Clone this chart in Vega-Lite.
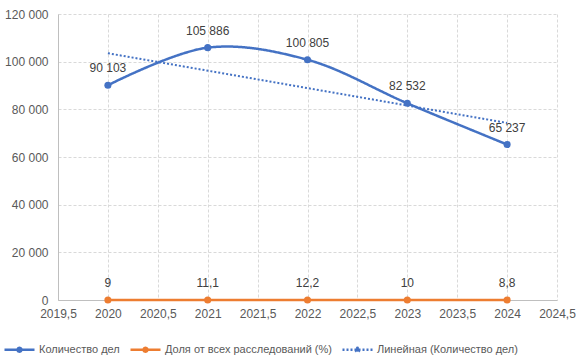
{
  "$schema": "https://vega.github.io/schema/vega-lite/v6.json",
  "width": 499,
  "height": 286,
  "autosize": {"type": "none"},
  "padding": {"left": 58, "top": 14, "right": 31, "bottom": 63},
  "background": "white",
  "config": {
    "locale": {"number": {"decimal": ",", "thousands": " ", "grouping": [3], "currency": ["", ""]}},
    "font": "Liberation Sans",
    "view": {"stroke": null},
    "axis": {
      "labelColor": "#595959", "labelFontSize": 12, "labelFont": "Liberation Sans",
      "gridColor": "#d9d9d9", "gridDash": [3, 2], "gridWidth": 1,
      "domainColor": "#bfbfbf", "ticks": false, "title": null
    }
  },
  "data": {
    "values": [
      {"year": 2020, "series": "Количество дел", "value": 90103},
      {"year": 2021, "series": "Количество дел", "value": 105886},
      {"year": 2022, "series": "Количество дел", "value": 100805},
      {"year": 2023, "series": "Количество дел", "value": 82532},
      {"year": 2024, "series": "Количество дел", "value": 65237},
      {"year": 2020, "series": "Доля от всех расследований (%)", "value": 9},
      {"year": 2021, "series": "Доля от всех расследований (%)", "value": 11.1},
      {"year": 2022, "series": "Доля от всех расследований (%)", "value": 12.2},
      {"year": 2023, "series": "Доля от всех расследований (%)", "value": 10},
      {"year": 2024, "series": "Доля от всех расследований (%)", "value": 8.8}
    ]
  },
  "encoding": {
    "x": {
      "field": "year", "type": "quantitative",
      "scale": {"domain": [2019.5, 2024.5], "nice": false, "zero": false},
      "axis": {"values": [2019.5, 2020, 2020.5, 2021, 2021.5, 2022, 2022.5, 2023, 2023.5, 2024, 2024.5], "format": ".1~f", "labelPadding": 8, "labelFlush": false, "domain": true}
    },
    "y": {
      "field": "value", "type": "quantitative",
      "scale": {"domain": [0, 120000], "nice": false},
      "axis": {"values": [0, 20000, 40000, 60000, 80000, 100000, 120000], "format": ",d", "labelPadding": 10, "domain": true}
    }
  },
  "layer": [
    {
      "mark": {"type": "line", "interpolate": "catmull-rom", "strokeWidth": 2.5},
      "encoding": {
        "color": {
          "field": "series", "type": "nominal",
          "scale": {
            "domain": ["Количество дел", "Доля от всех расследований (%)", "Линейная (Количество дел)"],
            "range": ["#4472C4", "#ED7D31", "#4472C4"]
          },
          "legend": {
            "title": null,
            "orient": "none",
            "legendX": -55,
            "legendY": 319,
            "direction": "horizontal",
            "labelColor": "#595959",
            "labelFontSize": 11,
            "labelFont": "Liberation Sans",
            "labelLimit": 400,
            "labelOffset": 3,
            "columnPadding": 5,
            "symbolSize": 900,
            "symbolStrokeWidth": 2.5,
            "symbolType": "M-1,0H1M-0.13,0A0.13,0.13,0,1,0,0.13,0A0.13,0.13,0,1,0,-0.13,0Z"
          }
        },
        "strokeDash": {
          "field": "series", "type": "nominal",
          "scale": {
            "domain": ["Количество дел", "Доля от всех расследований (%)", "Линейная (Количество дел)"],
            "range": [[1, 0], [1, 0], [2, 2]]
          },
          "legend": {
            "title": null,
            "orient": "none",
            "legendX": -55,
            "legendY": 319,
            "direction": "horizontal",
            "labelColor": "#595959",
            "labelFontSize": 11,
            "labelFont": "Liberation Sans",
            "labelLimit": 400,
            "labelOffset": 3,
            "columnPadding": 5,
            "symbolSize": 900,
            "symbolStrokeWidth": 2.5,
            "symbolType": "M-1,0H1M-0.13,0A0.13,0.13,0,1,0,0.13,0A0.13,0.13,0,1,0,-0.13,0Z"
          }
        }
      }
    },
    {
      "transform": [
        {"filter": "datum.series === 'Количество дел'"},
        {"regression": "value", "on": "year", "method": "linear", "extent": [2020, 2024]}
      ],
      "mark": {"type": "line", "strokeWidth": 2},
      "encoding": {
        "color": {"datum": "Линейная (Количество дел)"},
        "strokeDash": {"datum": "Линейная (Количество дел)"}
      }
    },
    {
      "mark": {"type": "point", "filled": true, "size": 50, "opacity": 1},
      "encoding": {
        "color": {"field": "series", "type": "nominal", "legend": null}
      }
    },
    {
      "mark": {"type": "text", "dy": -17, "fontSize": 12, "color": "#404040", "font": "Liberation Sans"},
      "encoding": {
        "text": {"field": "value", "type": "quantitative", "format": ","}
      }
    }
  ]
}
